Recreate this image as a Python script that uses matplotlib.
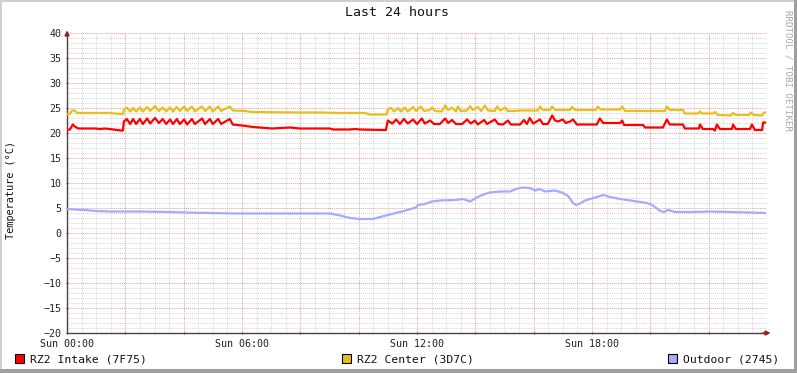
import matplotlib
matplotlib.use("Agg")
import matplotlib.pyplot as plt
from matplotlib.patches import Rectangle
from matplotlib.ticker import MultipleLocator

# time in minutes since Sun 00:00, values in degrees C
intake_t = [0, 6, 12, 16, 23, 58, 68, 78, 88, 111, 115, 117, 123, 130, 136, 142, 150, 156,
            165, 171, 181, 189, 197, 204, 212, 218, 226, 232, 241, 247, 257, 263, 278, 284,
            294, 300, 311, 317, 335, 341, 360, 383, 422, 459, 479, 541, 547, 582, 592, 603,
            650, 656, 660, 669, 677, 685, 693, 701, 712, 720, 730, 736, 747, 755, 767, 778,
            784, 792, 800, 813, 823, 831, 839, 845, 858, 864, 880, 887, 897, 907, 913, 932,
            940, 946, 952, 959, 973, 979, 989, 998, 1004, 1010, 1020, 1026, 1035, 1041, 1049,
            1090, 1096, 1103, 1138, 1142, 1146, 1185, 1189, 1226, 1234, 1240, 1267, 1271,
            1300, 1302, 1308, 1329, 1333, 1337, 1343, 1368, 1370, 1376, 1405, 1409, 1415,
            1430, 1432, 1436]
intake_v = [20.6, 20.7, 21.7, 21.3, 20.9, 20.9, 20.8, 20.9, 20.8, 20.5, 20.5, 22.3, 22.8,
            21.8, 22.8, 21.8, 22.8, 21.8, 22.9, 21.9, 23.0, 22.0, 22.8, 21.8, 22.7, 21.8,
            22.8, 21.8, 22.7, 21.7, 22.8, 21.8, 22.9, 21.8, 22.8, 21.8, 22.8, 21.8, 22.8,
            21.7, 21.5, 21.2, 20.9, 21.1, 20.9, 20.9, 20.7, 20.7, 20.8, 20.7, 20.6, 20.6,
            22.5, 21.9, 22.7, 21.8, 22.8, 21.9, 22.7, 21.8, 22.9, 21.9, 22.5, 21.8, 21.8,
            22.9, 22.0, 22.6, 21.8, 21.8, 22.7, 21.9, 22.5, 21.7, 22.6, 21.8, 22.7, 21.8,
            21.7, 22.5, 21.7, 21.7, 22.6, 21.8, 23.0, 21.9, 22.7, 21.8, 21.8, 23.5, 22.5,
            22.3, 22.7, 22.0, 22.3, 22.7, 21.7, 21.7, 22.9, 22.0, 22.0, 22.5, 21.6, 21.6,
            21.1, 21.1, 22.7, 21.7, 21.7, 20.9, 20.9, 21.7, 20.8, 20.8, 20.5, 21.7, 20.8,
            20.8, 21.7, 20.8, 20.8, 21.7, 20.6, 20.6, 22.1, 22.1]

center_t = [0, 6, 10, 16, 21, 68, 88, 111, 115, 117, 123, 130, 136, 142, 150, 156, 165, 171,
            181, 189, 197, 204, 212, 218, 226, 232, 241, 247, 257, 263, 278, 284, 294, 300,
            311, 317, 335, 341, 366, 381, 479, 520, 562, 613, 623, 658, 660, 667, 673, 681,
            687, 695, 701, 712, 718, 728, 734, 747, 751, 757, 771, 778, 784, 792, 800, 804,
            810, 823, 829, 835, 845, 852, 860, 866, 880, 885, 891, 901, 907, 922, 932, 969,
            973, 979, 994, 998, 1004, 1035, 1039, 1045, 1088, 1092, 1098, 1138, 1142, 1148,
            1230, 1234, 1240, 1267, 1271, 1298, 1302, 1306, 1329, 1333, 1339, 1366, 1370,
            1376, 1403, 1407, 1413, 1430, 1434, 1436]
center_v = [23.7, 23.8, 24.5, 24.5, 24.0, 24.0, 24.0, 23.8, 23.8, 24.6, 25.1, 24.3, 25.0,
            24.3, 25.1, 24.3, 25.2, 24.4, 25.4, 24.4, 25.1, 24.3, 25.1, 24.3, 25.2, 24.4,
            25.3, 24.4, 25.3, 24.3, 25.3, 24.4, 25.3, 24.3, 25.3, 24.4, 25.3, 24.5, 24.4,
            24.2, 24.1, 24.1, 24.0, 24.0, 23.7, 23.7, 24.7, 25.0, 24.3, 25.0, 24.3, 25.1,
            24.3, 25.2, 24.4, 25.3, 24.4, 24.6, 25.1, 24.4, 24.3, 25.5, 24.6, 25.1, 24.3,
            25.3, 24.4, 24.5, 25.4, 24.6, 25.2, 24.4, 25.5, 24.5, 24.4, 25.3, 24.5, 25.1,
            24.4, 24.4, 24.5, 24.5, 25.3, 24.6, 24.6, 25.3, 24.6, 24.6, 25.2, 24.6, 24.6,
            25.3, 24.7, 24.7, 25.3, 24.4, 24.4, 25.3, 24.6, 24.6, 23.9, 23.9, 24.3, 23.9,
            23.9, 24.2, 23.6, 23.5, 24.0, 23.6, 23.6, 24.1, 23.6, 23.5, 24.1, 24.1]

outdoor_t = [0, 16, 37, 58, 88, 150, 212, 243, 294, 346, 438, 520, 541, 562, 582, 603, 629,
             660, 697, 718, 722, 736, 751, 767, 798, 815, 829, 845, 860, 870, 891, 911, 924,
             936, 952, 963, 973, 983, 1004, 1018, 1031, 1041, 1047, 1055, 1066, 1076, 1090,
             1103, 1117, 1138, 1159, 1179, 1193, 1204, 1212, 1220, 1228, 1236, 1251, 1282,
             1323, 1364, 1405, 1436]
outdoor_v = [4.8, 4.7, 4.6, 4.4, 4.3, 4.3, 4.2, 4.1, 4.0, 3.9, 3.9, 3.9, 3.9, 3.5, 3.0, 2.8,
             2.8, 3.6, 4.5, 5.1, 5.6, 5.8, 6.3, 6.5, 6.6, 6.8, 6.3, 7.2, 7.8, 8.1, 8.3, 8.3,
             8.8, 9.1, 9.0, 8.5, 8.8, 8.3, 8.5, 8.1, 7.4, 6.0, 5.6, 5.9, 6.5, 6.8, 7.2, 7.6,
             7.2, 6.8, 6.5, 6.2, 6.0, 5.6, 5.0, 4.4, 4.2, 4.6, 4.2, 4.2, 4.3, 4.2, 4.1, 4.0]

labels = ["RZ2 Intake (7F75)", "RZ2 Center (3D7C)", "Outdoor (2745)"]
colors = ["#FF0000", "#E8BF1A", "#A8A8FF"]
xtick_pos = [0, 360, 720, 1080]
xtick_lab = ["Sun 00:00", "Sun 06:00", "Sun 12:00", "Sun 18:00"]

W, H = 797, 373
mono = "DejaVu Sans Mono"
fig = plt.figure(figsize=(W / 100, H / 100), dpi=100, facecolor="white")


def px(x, y, w, h):
    # pixel box (top-left origin) -> figure fraction rectangle
    return (x / W, 1 - (y + h) / H), w / W, h / H


# 3d-ish frame around the image
for (x, y, w, h), c in [((0, 0, W, 2), "#CFCFCF"), ((0, 0, 2, H), "#CFCFCF"),
                        ((W - 3, 0, 3, H), "#9F9F9F"), ((0, H - 4, W, 4), "#9F9F9F")]:
    xy, ww, hh = px(x, y, w, h)
    fig.add_artist(Rectangle(xy, ww, hh, transform=fig.transFigure, color=c, lw=0))

ax = fig.add_axes([67 / W, 40 / H, 700 / W, 300 / H])
ax.set_facecolor("white")

ax.plot(intake_t, intake_v, color=colors[0], lw=1.6, zorder=3)
ax.plot(center_t, center_v, color=colors[1], lw=1.6, zorder=3)
ax.plot(outdoor_t, outdoor_v, color=colors[2], lw=1.6, zorder=3)

ax.set_xlim(0, 1440)
ax.set_ylim(-20, 40)
ax.xaxis.set_major_locator(MultipleLocator(120))
ax.xaxis.set_minor_locator(MultipleLocator(30))
ax.yaxis.set_major_locator(MultipleLocator(5))
ax.yaxis.set_minor_locator(MultipleLocator(1))
ax.grid(which="minor", color="#D6D6D6", lw=0.7, ls=(0, (1, 1)))
ax.grid(which="major", color="#E4A0A0", lw=0.7, ls=(0, (1, 1)))
ax.set_axisbelow(True)

ax.set_xticks(range(0, 1441, 120))
ax.set_xticklabels([xtick_lab[xtick_pos.index(t)] if t in xtick_pos else "" for t in range(0, 1441, 120)])
ax.tick_params(axis="both", which="major", length=2, direction="inout", color="#8F4040",
               labelsize=7.2)
ax.tick_params(axis="both", which="minor", length=0)
ax.tick_params(axis="x", pad=3)
ax.tick_params(axis="y", pad=3)
for lab in ax.get_xticklabels() + ax.get_yticklabels():
    lab.set_family(mono)
    lab.set_color("#222222")
# lift the lowest y label a touch so it clears the first time label
ax.get_yticklabels()[0].set_va("bottom")

for s in ["top", "right"]:
    ax.spines[s].set_visible(False)
ax.spines["left"].set_color("#504040")
ax.spines["bottom"].set_color("#504040")
ax.spines["left"].set_linewidth(1)
ax.spines["bottom"].set_linewidth(1)

# axis arrows
ax.annotate("", xy=(0, 1.018), xytext=(0, 0.98), xycoords="axes fraction",
            arrowprops=dict(arrowstyle="-|>", color="#8F2020", lw=1, mutation_scale=7))
ax.annotate("", xy=(1.009, 0), xytext=(0.99, 0), xycoords="axes fraction",
            arrowprops=dict(arrowstyle="-|>", color="#8F2020", lw=1, mutation_scale=7))

fig.text(397 / W, 1 - 13 / H, "Last 24 hours", ha="center", va="center",
         family=mono, fontsize=9.5, color="#111111")
fig.text(11 / W, 1 - 190 / H, "Temperature (°C)", ha="center", va="center",
         rotation=90, family=mono, fontsize=7.4, color="#111111")
fig.text(788 / W, 1 - 70 / H, "RRDTOOL / TOBI OETIKER", ha="center", va="center",
         rotation=270, family=mono, fontsize=6.6, color="#A8A8A8")

# legend
sq_x = [15, 342, 668]
for x0, lab, c in zip(sq_x, labels, colors):
    xy, ww, hh = px(x0, 354, 9, 9)
    fig.add_artist(Rectangle(xy, ww, hh, transform=fig.transFigure,
                             facecolor=c, edgecolor="black", lw=0.8))
    fig.text((x0 + 15) / W, 1 - 359 / H, lab, ha="left", va="center",
             family=mono, fontsize=8.2, color="#111111")

fig.savefig("out.png", dpi=100, facecolor="white")
